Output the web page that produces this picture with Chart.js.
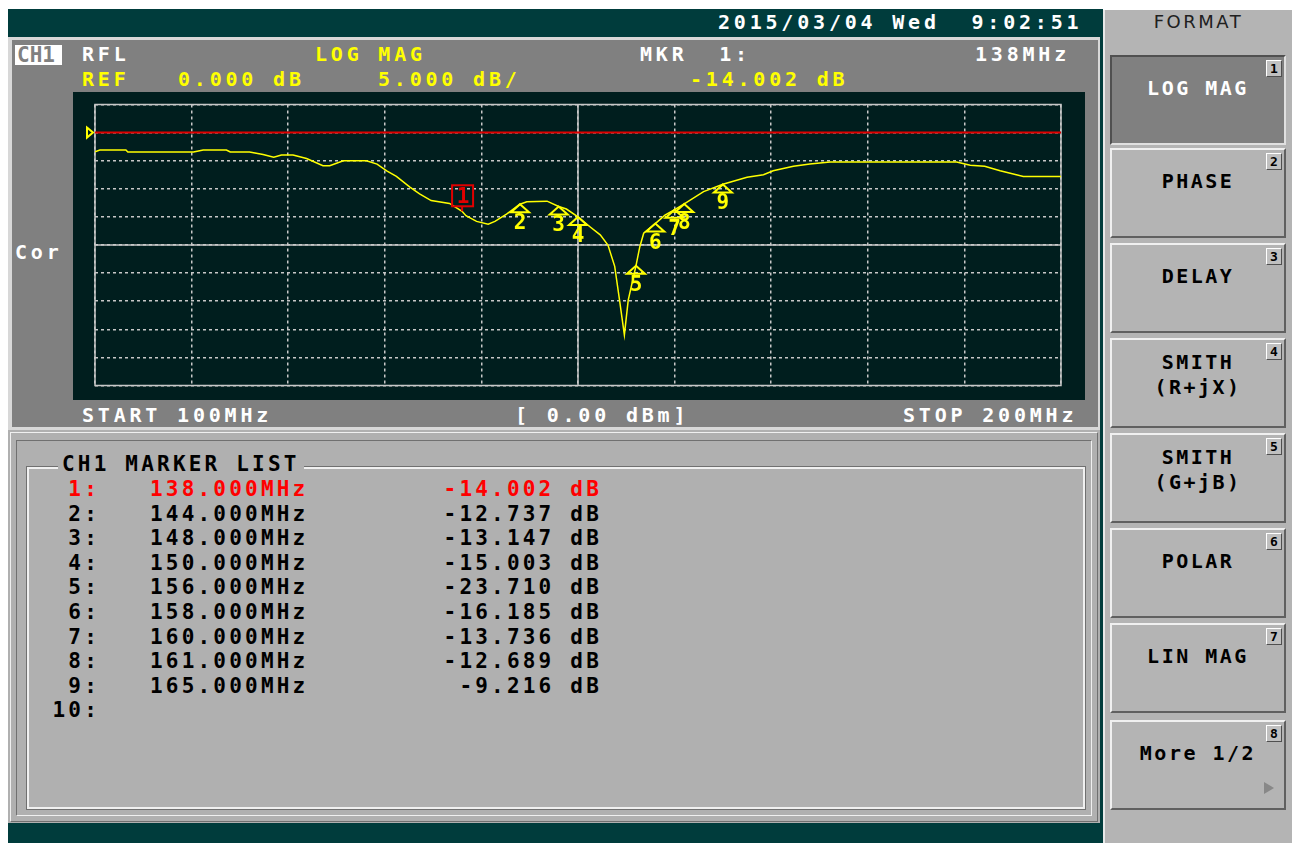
<!DOCTYPE html>
<html>
<head>
<meta charset="utf-8">
<script src="https://cdn.jsdelivr.net/npm/chart.js@4.4.0/dist/chart.umd.min.js"></script>
<style>
body { margin:0; width:1292px; height:843px; background:#fff; position:relative; overflow:hidden;
  font-family:"DejaVu Sans Mono", monospace; font-weight:bold; }
.abs { position:absolute; white-space:pre; line-height:1; }
.hdr { font-size:20px; letter-spacing:3.8px; }
.lst { font-size:21px; letter-spacing:3.2px; color:#000; }
.btn { position:absolute; left:1110px; width:172px; height:86px; background:#b4b4b4;
  border-top:2px solid #f0f0f0; border-left:2px solid #f0f0f0; border-right:2px solid #606060; border-bottom:2px solid #606060; }
.btn .t { position:absolute; left:0; right:0; text-align:center; font-size:20px; letter-spacing:2.5px; color:#000; line-height:25px; }
.btn .n { position:absolute; right:2px; top:3px; width:14px; height:15px; background:#c0c0c0; font-size:13px; line-height:15px;
  text-align:center; color:#000; border-top:1px solid #fff; border-left:1px solid #fff; border-right:1px solid #505050; border-bottom:1px solid #505050; }
</style>
</head>
<body>
<!-- top bar -->
<div class="abs" style="left:8px;top:9px;width:1092px;height:28px;background:#003c3c"></div>
<div class="abs hdr" style="left:718px;top:12px;color:#fff">2015/03/04 Wed  9:02:51</div>

<!-- channel window -->
<div class="abs" style="left:8px;top:37px;width:1092px;height:393px;background:#d8d8d8"></div>
<div class="abs" style="left:12px;top:40px;width:1086px;height:387px;background:#808080"></div>
<div class="abs" style="left:15px;top:45px;width:47px;height:20px;background:#fff"></div>
<div class="abs hdr" style="left:17px;top:45px;color:#808080;letter-spacing:0px;font-size:21px">CH1</div>
<div class="abs hdr" style="left:82px;top:44px;color:#fff">RFL</div>
<div class="abs hdr" style="left:315px;top:44px;color:#ffff00">LOG MAG</div>
<div class="abs hdr" style="left:640px;top:44px;color:#fff">MKR  1:</div>
<div class="abs hdr" id="mkrFreq" style="left:975px;top:44px;color:#fff"></div>
<div class="abs hdr" style="left:82px;top:69px;color:#ffff00">REF</div>
<div class="abs hdr" id="refTxt" style="left:178px;top:69px;color:#ffff00"></div>
<div class="abs hdr" id="divTxt" style="left:378px;top:69px;color:#ffff00"></div>
<div class="abs hdr" id="mkrVal" style="left:690px;top:69px;color:#ffff00"></div>
<div class="abs hdr" style="left:15px;top:242px;color:#fff">Cor</div>
<div class="abs hdr" style="left:82px;top:405px;color:#fff">START 100MHz</div>
<div class="abs hdr" style="left:515px;top:405px;color:#fff">[ 0.00 dBm]</div>
<div class="abs hdr" style="left:903px;top:405px;color:#fff">STOP 200MHz</div>
<canvas id="vna" width="1012" height="308" style="position:absolute;left:73px;top:92px;background:#001e1e"></canvas>

<!-- marker list panel -->
<div class="abs" style="left:8px;top:430px;width:1092px;height:393px;background:#b0b0b0"></div>
<div class="abs" style="left:10px;top:432px;width:1086px;height:388px;border-top:1px solid #f0f0f0;border-left:1px solid #f0f0f0;border-right:1px solid #707070;border-bottom:1px solid #707070"></div>
<div class="abs" style="left:16px;top:440px;width:1074px;height:374px;border-top:1px solid #707070;border-left:1px solid #707070;border-right:1px solid #f0f0f0;border-bottom:1px solid #f0f0f0"></div>
<div class="abs" style="left:27px;top:467px;width:1054px;height:338px;border:2px solid #f0f0f0;outline:1px solid #707070"></div>
<div class="abs lst" style="left:58px;top:454px;background:#b0b0b0;padding:0 4px 0 4px">CH1 MARKER LIST</div>
<div id="mlist"></div>
<div class="abs" style="left:8px;top:823px;width:1092px;height:20px;background:#003c3c"></div>

<!-- softkey panel -->
<div class="abs" style="left:1100px;top:9px;width:3px;height:834px;background:#003c3c"></div>
<div class="abs" style="left:1103px;top:10px;width:189px;height:833px;background:#b4b4b4;border-left:2px solid #e8e8e8"></div>
<div class="abs" style="left:1105px;top:13px;width:187px;text-align:center;font-family:'DejaVu Sans';font-weight:normal;font-size:18px;letter-spacing:2.5px;color:#202020">FORMAT</div>
<div id="keys"></div>

<script>
// trace, MHz / dB
const freqMHz = [100, 100.5, 103.2, 103.4, 110.2, 111.2, 113.6, 114.0, 116.0, 117.4, 118.5, 119.3, 120.5, 121.9,
  123.6, 124.3, 125.7, 128.1, 129.2, 130.2, 131.2, 132.6, 133.6, 134.8, 136.7, 138.0, 138.4, 139.5, 140.7, 141.4,
  142.6, 144.0, 144.7, 146.8, 148.0, 148.8, 150.0, 151.2, 152.3, 153.1, 153.8, 154.3, 154.8, 155.2, 156.0, 156.4,
  156.8, 158.0, 159.0, 160.0, 161.0, 163.0, 165.0, 167.5, 169.2, 170.2, 172.3, 174.0, 176.1, 189.2, 190.6, 192.1,
  193.7, 196.1, 200.0];
const traceDb = [-3.4, -3.1, -3.1, -3.45, -3.45, -3.1, -3.1, -3.45, -3.45, -3.9, -4.4, -4.0, -4.0, -4.6,
  -5.9, -5.9, -5.0, -5.0, -5.6, -6.8, -7.8, -9.7, -10.9, -12.1, -12.6, -14.0, -14.8, -15.8, -16.3, -15.8,
  -14.5, -12.74, -12.3, -12.2, -13.15, -13.6, -15.0, -16.7, -18.2, -20.0, -23.8, -29.8, -36.0, -29.8, -23.7, -20.3,
  -17.9, -16.2, -14.7, -13.7, -12.7, -10.5, -9.2, -7.95, -7.5, -6.8, -6.0, -5.6, -5.25, -5.25, -5.8, -6.0,
  -6.8, -7.8, -7.8];

const markerNo = [1, 2, 3, 4, 5, 6, 7, 8, 9];
const markerFreq = [138, 144, 148, 150, 156, 158, 160, 161, 165];
const markerDb = [-14.002, -12.737, -13.147, -15.003, -23.710, -16.185, -13.736, -12.689, -9.216];

const refLevel = 0;
const scaleDiv = 5;
const startMHz = 100, stopMHz = 200;

const softKeys = [["LOG MAG"], ["PHASE"], ["DELAY"], ["SMITH", "(R+jX)"], ["SMITH", "(G+jB)"], ["POLAR"], ["LIN MAG"], ["More 1/2"]];
const keyTops = [55, 148, 243, 338, 433, 528, 623, 720];

// header texts
document.getElementById("mkrFreq").textContent = markerFreq[0] + "MHz";
document.getElementById("mkrVal").textContent = markerDb[0].toFixed(3) + " dB";
document.getElementById("refTxt").textContent = refLevel.toFixed(3) + " dB";
document.getElementById("divTxt").textContent = scaleDiv.toFixed(3) + " dB/";

// marker list
var html = "";
for (var i = 0; i < 10; i++) {
    var rowY = 479 + i * 24.6;
    var col = i == 0 ? "#ff0000" : "#000";
    html += '<div class="abs lst" style="left:0;width:100px;text-align:right;top:' + rowY + 'px;color:' + col + '">' + (i + 1) + ':</div>';
    if (i < markerNo.length) {
        html += '<div class="abs lst" style="left:150px;top:' + rowY + 'px;color:' + col + '">' + markerFreq[i].toFixed(3) + 'MHz</div>';
        html += '<div class="abs lst" style="left:300px;width:302px;text-align:right;top:' + rowY + 'px;color:' + col + '">' + markerDb[i].toFixed(3) + ' dB</div>';
    }
}
document.getElementById("mlist").innerHTML = html;

// soft keys
html = "";
softKeys.forEach(function (k, i) {
    var active = i == 0;
    var st = 'top:' + keyTops[i] + 'px;';
    if (active) st += 'background:#808080;border-top-color:#505050;border-left-color:#505050;border-right-color:#e0e0e0;border-bottom-color:#e0e0e0;';
    html += '<div class="btn" style="' + st + '">';
    var y0 = k.length == 1 ? 19 : 10;
    k.forEach(function (line, j) {
        html += '<div class="t" style="top:' + (y0 + j * 25) + 'px;color:' + (active ? '#fff' : '#000') + '">' + line + '</div>';
    });
    html += '<div class="n">' + (i + 1) + '</div>';
    if (i == 7) html += '<div style="position:absolute;left:152px;top:60px;width:0;height:0;border-left:10px solid #888;border-top:6px solid transparent;border-bottom:6px solid transparent"></div>';
    html += '</div>';
});
document.getElementById("keys").innerHTML = html;

var overlay = {
    id: "vnaOverlay",
    beforeDatasetsDraw: function (chart) {
        var ctx = chart.ctx, a = chart.chartArea;
        var x = chart.scales.x, y = chart.scales.y;
        ctx.save();
        ctx.strokeStyle = "#c8c8c8";
        ctx.lineWidth = 1.5;
        ctx.strokeRect(a.left, a.top, a.right - a.left, a.bottom - a.top);
        var cx = x.getPixelForValue((startMHz + stopMHz) / 2);
        var cy = y.getPixelForValue(-20);
        ctx.beginPath();
        ctx.moveTo(cx, a.top); ctx.lineTo(cx, a.bottom);
        ctx.moveTo(a.left, cy); ctx.lineTo(a.right, cy);
        ctx.stroke();
        // reference position arrow
        var ry = y.getPixelForValue(refLevel);
        ctx.strokeStyle = "#ffff00";
        ctx.lineWidth = 2;
        ctx.beginPath();
        ctx.moveTo(a.left - 8, ry - 5); ctx.lineTo(a.left - 2, ry); ctx.lineTo(a.left - 8, ry + 5); ctx.closePath();
        ctx.stroke();
        ctx.restore();
    },
    afterDatasetsDraw: function (chart) {
        var ctx = chart.ctx;
        var x = chart.scales.x, y = chart.scales.y;
        ctx.save();
        ctx.font = 'bold 21px "DejaVu Sans Mono"';
        ctx.textAlign = "center";
        ctx.textBaseline = "top";
        for (var i = markerNo.length - 1; i >= 0; i--) {
            var px = x.getPixelForValue(markerFreq[i]);
            var py = y.getPixelForValue(markerDb[i]);
            if (i == 0) {
                ctx.strokeStyle = "#e00000";
                ctx.fillStyle = "#e00000";
                ctx.lineWidth = 2;
                ctx.strokeRect(px - 10, py - 26, 21, 21);
                ctx.beginPath(); ctx.moveTo(px, py - 5); ctx.lineTo(px, py); ctx.stroke();
                ctx.fillText(String(markerNo[i]), px + 1, py - 24);
            } else {
                ctx.strokeStyle = "#ffff00";
                ctx.fillStyle = "#ffff00";
                ctx.lineWidth = 2;
                ctx.beginPath();
                ctx.moveTo(px, py); ctx.lineTo(px + 9, py + 8); ctx.lineTo(px - 9, py + 8); ctx.closePath();
                ctx.stroke();
                ctx.fillText(String(markerNo[i]), px, py + 9);
            }
        }
        ctx.restore();
    }
};

var trace = freqMHz.map(function (f, i) { return {x: f, y: traceDb[i]}; });

new Chart("vna", {
    type: "line",
    data: {
        datasets: [{
            data: [{x: startMHz, y: refLevel}, {x: stopMHz, y: refLevel}],
            borderColor: "#e00000", borderWidth: 2, pointRadius: 0
        }, {
            data: trace,
            borderColor: "#ffff00", borderWidth: 1.5, pointRadius: 0, tension: 0
        }]
    },
    options: {
        responsive: false,
        animation: false,
        devicePixelRatio: 1,
        layout: {padding: {left: 22, right: 24, top: 12.5, bottom: 14.5}},
        plugins: {legend: {display: false}, tooltip: {enabled: false}},
        scales: {
            x: {
                type: "linear", min: startMHz, max: stopMHz,
                ticks: {display: false, stepSize: 10},
                grid: {color: "#c8c8c8", lineWidth: 1.5, drawTicks: false},
                border: {display: false, dash: [3, 3]}
            },
            y: {
                min: refLevel - 9 * scaleDiv, max: refLevel + scaleDiv,
                ticks: {display: false, stepSize: scaleDiv},
                grid: {color: "#c8c8c8", lineWidth: 1.5, drawTicks: false},
                border: {display: false, dash: [3, 3]}
            }
        }
    },
    plugins: [overlay]
});
</script>
</body>
</html>
